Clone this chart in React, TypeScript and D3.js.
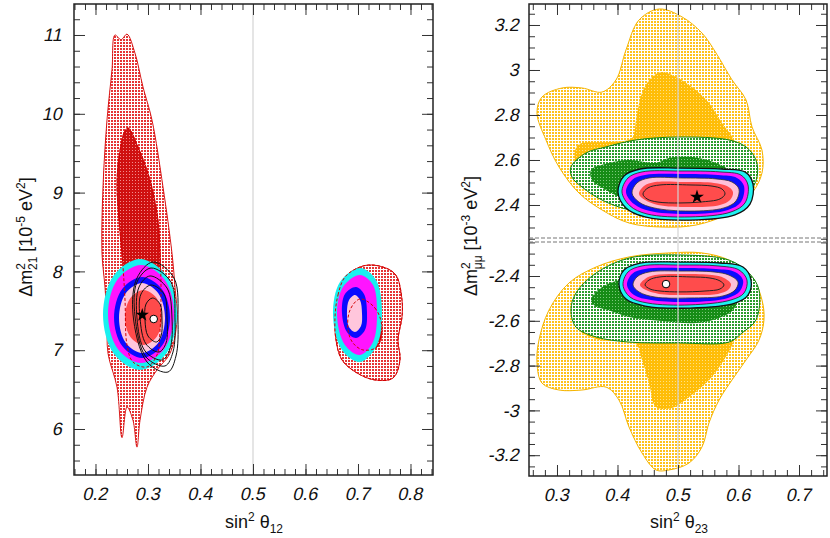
import React, { useEffect, useRef } from "react";
import * as d3 from "d3";

type Pt = [number, number];

const FONT = "'Liberation Sans', Arial, Helvetica, sans-serif";

// ---------- left panel: sin^2 theta12 vs dm21^2 ----------
const leftXTicks = [0.2, 0.3, 0.4, 0.5, 0.6, 0.7, 0.8];
const leftXTickLabels = ["0.2", "0.3", "0.4", "0.5", "0.6", "0.7", "0.8"];
const leftYTicks = [6, 7, 8, 9, 10, 11];
const leftYTickLabels = ["6", "7", "8", "9", "10", "11"];

// solar-only regions (light dotted = outer, dark = inner)
const solarOuter: Pt[] = [
  [0.2371, 11.0], [0.2486, 10.94], [0.26, 11.01], [0.2752, 10.77], [0.2905, 10.34],
  [0.3076, 9.92], [0.3286, 9.07], [0.3457, 8.23], [0.3514, 7.8], [0.3552, 7.38],
  [0.3419, 6.96], [0.3171, 6.75], [0.2981, 6.53], [0.2848, 6.11], [0.279, 5.77],
  [0.2714, 6.11], [0.26, 6.28], [0.2505, 5.89], [0.241, 6.53], [0.2238, 6.96],
  [0.2219, 7.38], [0.2181, 7.8], [0.2124, 8.23], [0.2143, 9.07], [0.2219, 9.92],
  [0.2314, 10.56],
];
const solarInner: Pt[] = [
  [0.2619, 9.82], [0.281, 9.579], [0.3038, 9.16], [0.319, 8.652], [0.3229, 8.234],
  [0.3248, 7.764], [0.3229, 7.256], [0.3171, 6.939], [0.2981, 6.787], [0.2714, 6.85],
  [0.26, 7.066], [0.2562, 7.637], [0.2524, 8.056], [0.2448, 8.652], [0.241, 9.071],
  [0.2429, 9.35], [0.2486, 9.605], [0.2543, 9.757],
];
const islandOuter: Pt[] = [
  [0.6562, 7.421], [0.6619, 7.701], [0.6752, 7.929], [0.7038, 8.056], [0.7286, 8.081],
  [0.761, 8.018], [0.7743, 7.929], [0.7838, 7.637], [0.7838, 7.421], [0.7762, 7.129],
  [0.78, 6.876], [0.7667, 6.647], [0.7324, 6.622], [0.6981, 6.711], [0.6695, 6.876],
  [0.6581, 7.129],
];
const islandInner: Pt[] = [
  [0.7038, 7.65], [0.7324, 7.535], [0.7457, 7.294], [0.7362, 7.041],
  [0.7095, 7.003], [0.6905, 7.091], [0.681, 7.256], [0.6848, 7.51],
];

// global fit rings, main solution
const globCyan: Pt[] = [
  [0.2848, 8.157], [0.3346, 7.951], [0.3553, 7.453], [0.3346, 6.955],
  [0.2848, 6.749], [0.235, 6.955], [0.2143, 7.453], [0.235, 7.951],
];
const globMagenta: Pt[] = [
  [0.2867, 8.081], [0.3312, 7.899], [0.3496, 7.459], [0.3312, 7.019],
  [0.2867, 6.837], [0.2422, 7.019], [0.2238, 7.459], [0.2422, 7.899],
];
const globBlue: Pt[] = [
  [0.2886, 7.929], [0.3263, 7.778], [0.3419, 7.415], [0.3263, 7.052],
  [0.2886, 6.901], [0.2509, 7.052], [0.2353, 7.415], [0.2509, 7.778],
];
const globPink: Pt[] = [
  [0.2886, 7.853], [0.3196, 7.723], [0.3324, 7.409], [0.3196, 7.095],
  [0.2886, 6.965], [0.2576, 7.095], [0.2448, 7.409], [0.2576, 7.723],
];
const globRed: Pt[] = [
  [0.2914, 7.764], [0.3163, 7.662], [0.3266, 7.415], [0.3163, 7.168],
  [0.2914, 7.066], [0.2665, 7.168], [0.2562, 7.415], [0.2665, 7.662],
];
// global fit rings, dark-side island
const isleCyan: Pt[] = [
  [0.7038, 8.043], [0.7343, 7.891], [0.7457, 7.485], [0.7362, 7.066],
  [0.7038, 6.85], [0.6695, 7.003], [0.6524, 7.447], [0.6657, 7.865],
];
const isleMagenta: Pt[] = [
  [0.7038, 7.954], [0.7286, 7.827], [0.7362, 7.472], [0.7286, 7.104],
  [0.7038, 6.939], [0.6752, 7.066], [0.66, 7.447], [0.6714, 7.802],
];
const isleBlue: Pt[] = [
  [0.6962, 7.802], [0.7114, 7.713], [0.7171, 7.485], [0.7133, 7.256],
  [0.6962, 7.155], [0.679, 7.231], [0.6695, 7.472], [0.6752, 7.713],
];
const islePink: Pt[] = [
  [0.6943, 7.701], [0.7038, 7.637], [0.7076, 7.472], [0.7057, 7.307],
  [0.6943, 7.231], [0.6829, 7.294], [0.679, 7.472], [0.6829, 7.637],
];
// black line contours (reactor)
const reactorContours: Pt[][] = [
  [[0.3086, 7.662], [0.3229, 7.586], [0.3267, 7.383], [0.3248, 7.18], [0.3162, 7.104], [0.3, 7.18], [0.2943, 7.383], [0.2962, 7.586]],
  [[0.3057, 7.827], [0.3305, 7.713], [0.3362, 7.409], [0.3343, 7.091], [0.321, 6.977], [0.2962, 7.079], [0.2848, 7.409], [0.2867, 7.713]],
  [[0.3038, 7.942], [0.3362, 7.789], [0.3457, 7.409], [0.3419, 7.015], [0.3267, 6.876], [0.2943, 6.99], [0.279, 7.409], [0.2829, 7.802]],
  [[0.3057, 8.043], [0.3438, 7.865], [0.3514, 7.409], [0.3476, 6.977], [0.3324, 6.8], [0.2962, 6.914], [0.2752, 7.434], [0.279, 7.865]],
  [[0.3095, 8.119], [0.3495, 7.916], [0.3571, 7.383], [0.3533, 6.926], [0.3381, 6.723], [0.2981, 6.85], [0.2714, 7.459], [0.279, 7.916]],
];
const leftStar: Pt = [0.2891, 7.447];
const leftDot: Pt = [0.3109, 7.396];

// ---------- right panel: sin^2 theta23 vs dm_mumu^2 ----------
const rightXTicks = [0.3, 0.4, 0.5, 0.6, 0.7];
const rightXTickLabels = ["0.3", "0.4", "0.5", "0.6", "0.7"];
const upperYTicks = [2.4, 2.6, 2.8, 3, 3.2];
const upperYTickLabels = ["2.4", "2.6", "2.8", "3", "3.2"];
const lowerYTicks = [-3.2, -3, -2.8, -2.6, -2.4];
const lowerYTickLabels = ["-3.2", "-3", "-2.8", "-2.6", "-2.4"];

// normal ordering (upper)
const noYellowOuter: Pt[] = [
  [0.4686, 3.271], [0.5066, 3.236], [0.5397, 3.164], [0.5628, 3.076], [0.5893, 2.956],
  [0.6124, 2.867], [0.6223, 2.747], [0.6388, 2.644], [0.6388, 2.542], [0.6223, 2.453],
  [0.5843, 2.364], [0.5298, 2.311], [0.4736, 2.302], [0.419, 2.32], [0.3744, 2.378],
  [0.3364, 2.453], [0.3033, 2.569], [0.2818, 2.689], [0.2669, 2.809], [0.2752, 2.88],
  [0.3083, 2.92], [0.3413, 2.92], [0.3744, 2.902], [0.3975, 2.956], [0.414, 3.089],
  [0.4355, 3.222],
];
const noYellowInner: Pt[] = [
  [0.4736, 2.991], [0.4967, 2.969], [0.5231, 2.924], [0.5512, 2.853], [0.5727, 2.764],
  [0.5926, 2.689], [0.6025, 2.6], [0.5942, 2.467], [0.5364, 2.4], [0.4372, 2.4],
  [0.3545, 2.467], [0.3298, 2.6], [0.3347, 2.667], [0.3876, 2.68], [0.424, 2.698],
  [0.4306, 2.778], [0.4405, 2.898], [0.457, 2.969],
];
const noGreenOuter: Pt[] = [
  [0.3231, 2.569], [0.3479, 2.631], [0.381, 2.658], [0.4306, 2.689], [0.5017, 2.702],
  [0.5843, 2.689], [0.6124, 2.658], [0.6289, 2.6], [0.6306, 2.524], [0.6174, 2.453],
  [0.5843, 2.387], [0.5298, 2.364], [0.4736, 2.356], [0.419, 2.378], [0.3744, 2.422],
  [0.3413, 2.48], [0.3248, 2.524],
];
const noGreenInner: Pt[] = [
  [0.3562, 2.556], [0.386, 2.587], [0.419, 2.6], [0.4636, 2.587], [0.4851, 2.609],
  [0.5231, 2.613], [0.5628, 2.587], [0.5843, 2.556], [0.5959, 2.511], [0.5843, 2.422],
  [0.5017, 2.409], [0.419, 2.422], [0.381, 2.467], [0.3579, 2.511],
];
const noCyan: Pt[] = [
  [0.4008, 2.458], [0.4107, 2.529], [0.4372, 2.56], [0.5033, 2.564], [0.5727, 2.56], [0.6107, 2.547],
  [0.624, 2.493], [0.619, 2.404], [0.5942, 2.356], [0.5198, 2.333], [0.4455, 2.347], [0.414, 2.387],
];
const noMagenta: Pt[] = [
  [0.4074, 2.458], [0.4174, 2.52], [0.4405, 2.547], [0.5033, 2.551], [0.5694, 2.547], [0.6041, 2.533],
  [0.6157, 2.489], [0.6107, 2.409], [0.5876, 2.369], [0.5198, 2.347], [0.4488, 2.36], [0.4207, 2.396],
];
const noBlue: Pt[] = [
  [0.414, 2.458], [0.424, 2.511], [0.4455, 2.533], [0.5033, 2.538], [0.5661, 2.533], [0.5975, 2.52],
  [0.6091, 2.484], [0.6041, 2.413], [0.5826, 2.378], [0.5198, 2.36], [0.4537, 2.373], [0.4273, 2.404],
];
const noPink: Pt[] = [
  [0.424, 2.453], [0.4322, 2.498], [0.4521, 2.52], [0.5066, 2.52], [0.5628, 2.516], [0.5893, 2.502],
  [0.6008, 2.471], [0.5959, 2.418], [0.576, 2.387], [0.5198, 2.373], [0.4603, 2.387], [0.4355, 2.413],
];
const noRed: Pt[] = [
  [0.4355, 2.449], [0.4438, 2.484], [0.462, 2.502], [0.5116, 2.502], [0.5595, 2.498], [0.581, 2.484],
  [0.5909, 2.458], [0.586, 2.422], [0.5694, 2.4], [0.5198, 2.391], [0.4669, 2.4], [0.4455, 2.422],
];
const noLine: Pt[] = [
  [0.4421, 2.449], [0.4504, 2.476], [0.4702, 2.489], [0.5198, 2.489], [0.5562, 2.484], [0.5727, 2.471],
  [0.5777, 2.449], [0.5694, 2.427], [0.5364, 2.413], [0.5033, 2.409], [0.4669, 2.413], [0.4488, 2.427],
];
const noStar: Pt = [0.5314, 2.436];

// inverted ordering (lower)
const ioYellowOuter: Pt[] = [
  [0.4851, -2.297], [0.5397, -2.297], [0.5843, -2.329], [0.6223, -2.404], [0.6388, -2.507],
  [0.6421, -2.596], [0.6339, -2.686], [0.6124, -2.775], [0.5893, -2.864], [0.5678, -2.954],
  [0.5512, -3.056], [0.5397, -3.163], [0.5182, -3.235], [0.4851, -3.266], [0.4636, -3.266],
  [0.4405, -3.19], [0.419, -3.074], [0.4025, -2.954], [0.381, -2.896], [0.3413, -2.909],
  [0.3033, -2.909], [0.2752, -2.878], [0.2669, -2.788], [0.2702, -2.686], [0.2868, -2.552],
  [0.3198, -2.431], [0.3645, -2.36], [0.419, -2.315],
];
const ioYellowInner: Pt[] = [
  [0.3364, -2.641], [0.3711, -2.686], [0.4289, -2.699], [0.4405, -2.775], [0.4521, -2.878],
  [0.4636, -2.985], [0.4901, -2.989], [0.5182, -2.94], [0.5512, -2.864], [0.5727, -2.788],
  [0.5909, -2.699], [0.5992, -2.596], [0.586, -2.463], [0.5198, -2.396], [0.4207, -2.396],
  [0.3545, -2.463], [0.3314, -2.574],
];
const ioGreenOuter: Pt[] = [
  [0.3231, -2.552], [0.3314, -2.476], [0.3645, -2.387], [0.419, -2.32], [0.5017, -2.306],
  [0.5843, -2.329], [0.6174, -2.387], [0.6339, -2.463], [0.6289, -2.596], [0.6058, -2.654],
  [0.5843, -2.695], [0.5017, -2.699], [0.419, -2.695], [0.3645, -2.672], [0.3314, -2.628],
];
const ioGreenInner: Pt[] = [
  [0.3562, -2.507], [0.3678, -2.463], [0.3876, -2.431], [0.4207, -2.409], [0.5033, -2.382],
  [0.5694, -2.396], [0.5942, -2.44], [0.5992, -2.507], [0.5893, -2.556], [0.5678, -2.587],
  [0.5298, -2.61], [0.4736, -2.601], [0.419, -2.583], [0.3843, -2.552], [0.3628, -2.534],
];
const ioCyan: Pt[] = [
  [0.4025, -2.44], [0.4107, -2.373], [0.4372, -2.342], [0.5033, -2.338], [0.5694, -2.342], [0.6074, -2.36],
  [0.6207, -2.418], [0.6157, -2.485], [0.5942, -2.521], [0.5198, -2.543], [0.4455, -2.534], [0.414, -2.503],
];
const ioMagenta: Pt[] = [
  [0.4091, -2.44], [0.4174, -2.382], [0.4405, -2.355], [0.5033, -2.351], [0.5661, -2.355], [0.6008, -2.373],
  [0.614, -2.418], [0.6091, -2.476], [0.5876, -2.507], [0.5198, -2.529], [0.4504, -2.521], [0.4207, -2.494],
];
const ioBlue: Pt[] = [
  [0.4157, -2.44], [0.424, -2.391], [0.4455, -2.369], [0.5033, -2.364], [0.5628, -2.369], [0.5942, -2.382],
  [0.6074, -2.418], [0.6025, -2.467], [0.5826, -2.498], [0.5198, -2.516], [0.4554, -2.507], [0.4273, -2.485],
];
const ioPink: Pt[] = [
  [0.4256, -2.44], [0.4322, -2.404], [0.4521, -2.382], [0.5066, -2.378], [0.5595, -2.382], [0.5843, -2.396],
  [0.5992, -2.427], [0.5942, -2.463], [0.5744, -2.489], [0.5198, -2.498], [0.462, -2.494], [0.4355, -2.471],
];
const ioRed: Pt[] = [
  [0.4372, -2.44], [0.4455, -2.413], [0.462, -2.396], [0.5116, -2.391], [0.5562, -2.396], [0.576, -2.409],
  [0.5876, -2.436], [0.5826, -2.463], [0.5661, -2.48], [0.5198, -2.485], [0.4686, -2.48], [0.4471, -2.463],
];
const ioLine: Pt[] = [
  [0.4455, -2.44], [0.4521, -2.418], [0.4702, -2.404], [0.5198, -2.404], [0.5529, -2.409], [0.5694, -2.422],
  [0.576, -2.44], [0.5694, -2.458], [0.5446, -2.467], [0.5033, -2.471], [0.4702, -2.467], [0.4537, -2.458],
];
const ioDot: Pt = [0.4802, -2.436];

// layout
const LEFT = { x0: 74, x1: 433, y0: 4, y1: 475 };
const RIGHT = { x0: 529, x1: 827, y0: 4, ya: 238, yb: 242, y1: 476 };

const App = () => {
  const ref = useRef<SVGGElement>(null);

  useEffect(() => {
    const root = d3.select(ref.current);
    root.selectAll("*").remove();

    const xL = d3.scaleLinear().domain([0.15905, 0.84286]).range([LEFT.x0, LEFT.x1]);
    const yL = d3.scaleLinear().domain([5.4162, 11.3934]).range([LEFT.y1, LEFT.y0]);
    const xR = d3.scaleLinear().domain([0.25372, 0.74628]).range([RIGHT.x0, RIGHT.x1]);
    const yU = d3.scaleLinear().domain([2.2533, 3.2933]).range([RIGHT.ya, RIGHT.y0]);
    const yD = d3.scaleLinear().domain([-3.2929, -2.2482]).range([RIGHT.y1, RIGHT.yb]);

    // patterns
    const defs = root.append("defs");
    const pattern = (id: string, bg: string, fg: string, dot: number) => {
      const p = defs.append("pattern").attr("id", id).attr("patternUnits", "userSpaceOnUse")
        .attr("width", 3).attr("height", 3);
      p.append("rect").attr("width", 3).attr("height", 3).attr("fill", bg);
      p.append("rect").attr("width", dot).attr("height", dot).attr("fill", fg);
    };
    pattern("dotRed", "#ffffff", "#e53535", 2);
    pattern("darkRed", "#cf1010", "#f28c8c", 1);
    pattern("dotYellow", "#ffffff", "#ffc21c", 2);
    pattern("darkYellow", "#ffbd08", "#ffe184", 1);
    pattern("dotGreen", "#ffffff", "#2c9c2c", 2);
    pattern("darkGreen", "#168c16", "#7cc87c", 1);

    const clip = (id: string, x0: number, y0: number, x1: number, y1: number) =>
      defs.append("clipPath").attr("id", id).append("rect")
        .attr("x", x0).attr("y", y0).attr("width", x1 - x0).attr("height", y1 - y0);
    clip("clipL", LEFT.x0, LEFT.y0, LEFT.x1, LEFT.y1);
    clip("clipU", RIGHT.x0, RIGHT.y0, RIGHT.x1, RIGHT.ya);
    clip("clipD", RIGHT.x0, RIGHT.yb, RIGHT.x1, RIGHT.y1);

    const shape = (x: d3.ScaleLinear<number, number>, y: d3.ScaleLinear<number, number>) =>
      d3.line<Pt>().x((d) => x(d[0])).y((d) => y(d[1])).curve(d3.curveCatmullRomClosed.alpha(0.5));

    const area = (g: any, gen: any, pts: Pt[], fill: string, stroke = "none", sw = 1, dash = "") =>
      g.append("path").attr("d", gen(pts)).attr("fill", fill).attr("stroke", stroke)
        .attr("stroke-width", sw).attr("stroke-dasharray", dash || null);

    // ---- left panel ----
    const gl = root.append("g").attr("clip-path", "url(#clipL)");
    const lineL = shape(xL, yL);
    area(gl, lineL, solarOuter, "url(#dotRed)", "#d40000", 0.9);
    area(gl, lineL, islandOuter, "url(#dotRed)", "#d40000", 0.9);
    area(gl, lineL, solarInner, "url(#darkRed)", "#c80000", 0.8);
    area(gl, lineL, islandInner, "url(#darkRed)", "#c80000", 0.8);
    area(gl, lineL, globCyan, "#19f0f0");
    area(gl, lineL, globMagenta, "#ff14ff");
    area(gl, lineL, globBlue, "#0a0aff");
    area(gl, lineL, globPink, "#ffc6dc");
    area(gl, lineL, globRed, "#ff4b4b");
    area(gl, lineL, isleCyan, "#19f0f0");
    area(gl, lineL, isleMagenta, "#ff14ff");
    area(gl, lineL, isleBlue, "#0a0aff");
    area(gl, lineL, islePink, "#ffc6dc");
    area(gl, lineL, solarInner, "none", "#d40000", 1, "3,2");
    area(gl, lineL, islandInner, "none", "#d40000", 1, "3,2");
    area(gl, lineL, islandOuter, "none", "#d40000", 1, "3,2");
    reactorContours.forEach((c) => area(gl, lineL, c, "none", "#111", 1));
    gl.append("line").attr("x1", xL(0.5)).attr("x2", xL(0.5)).attr("y1", LEFT.y0).attr("y2", LEFT.y1)
      .attr("stroke", "#d4d4d4").attr("stroke-width", 1.2);
    gl.append("path").attr("d", d3.symbol(d3.symbolStar, 55)())
      .attr("transform", `translate(${xL(leftStar[0])},${yL(leftStar[1])})`).attr("fill", "#000");
    gl.append("circle").attr("cx", xL(leftDot[0])).attr("cy", yL(leftDot[1])).attr("r", 3.8)
      .attr("fill", "#fff").attr("stroke", "#000").attr("stroke-width", 1);

    // ---- right panels ----
    const drawRight = (clipId: string, y: d3.ScaleLinear<number, number>, d: {
      yo: Pt[]; yi: Pt[]; go: Pt[]; gi: Pt[]; rings: Pt[][]; inner: Pt[];
    }) => {
      const g = root.append("g").attr("clip-path", `url(#${clipId})`);
      const gen = shape(xR, y);
      area(g, gen, d.yo, "url(#dotYellow)", "#f5b400", 1);
      area(g, gen, d.yi, "url(#darkYellow)");
      area(g, gen, d.go, "url(#dotGreen)", "#138613", 1);
      area(g, gen, d.gi, "url(#darkGreen)");
      const fills = ["#1ef2f2", "#ff18ff", "#0c0cff", "#ffc0d8", "#ff4c4c"];
      const strokes = ["#111", "#222", "none", "#333", "none"];
      d.rings.forEach((r, i) => area(g, gen, r, fills[i], strokes[i], i === 0 ? 1.3 : 0.8));
      area(g, gen, d.inner, "none", "#222", 1);
      return g;
    };
    const gu = drawRight("clipU", yU, {
      yo: noYellowOuter, yi: noYellowInner, go: noGreenOuter, gi: noGreenInner,
      rings: [noCyan, noMagenta, noBlue, noPink, noRed], inner: noLine,
    });
    const gd = drawRight("clipD", yD, {
      yo: ioYellowOuter, yi: ioYellowInner, go: ioGreenOuter, gi: ioGreenInner,
      rings: [ioCyan, ioMagenta, ioBlue, ioPink, ioRed], inner: ioLine,
    });
    gu.append("path").attr("d", d3.symbol(d3.symbolStar, 60)())
      .attr("transform", `translate(${xR(noStar[0])},${yU(noStar[1])})`).attr("fill", "#000");
    gd.append("circle").attr("cx", xR(ioDot[0])).attr("cy", yD(ioDot[1])).attr("r", 3.8)
      .attr("fill", "#fff").attr("stroke", "#000").attr("stroke-width", 1);
    root.append("line").attr("x1", xR(0.5)).attr("x2", xR(0.5)).attr("y1", RIGHT.y0).attr("y2", RIGHT.y1)
      .attr("stroke", "#d4d4d4").attr("stroke-width", 1.2);

    // ---- axes ----
    // slanted tick labels (skew kept centred on the glyphs)
    const styleAxis = (g: any, shiftX: number) => {
      g.attr("font-family", null).attr("font-size", null);
      g.selectAll(".domain").remove();
      g.selectAll(".tick line").attr("stroke", "#333").attr("stroke-width", 1);
      g.selectAll(".tick text")
        .style("font-family", FONT).style("font-size", "18px").style("fill", "#111")
        .attr("transform", `translate(${shiftX},0) skewX(-12)`);
    };
    const axis = (gen: any, tx: number, ty: number, shiftX = 0) => {
      const g = root.append("g").attr("transform", `translate(${tx},${ty})`).call(gen);
      styleAxis(g, shiftX);
    };
    const none = () => "";
    const minorLX = d3.range(8, 43).map((i) => +(i * 0.02).toFixed(2));
    const minorLY = d3.range(28, 57).map((i) => +(i * 0.2).toFixed(1));
    const minorRX = d3.range(13, 38).map((i) => +(i * 0.02).toFixed(2));
    const minorUY = d3.range(45, 66).map((i) => +(i * 0.05).toFixed(2));
    const minorDY = d3.range(-65, -44).map((i) => +(i * 0.05).toFixed(2));

    // left panel
    axis(d3.axisBottom(xL).tickValues(leftXTicks).tickSize(-11).tickPadding(12)
      .tickFormat((_d: any, i: number) => leftXTickLabels[i]), 0, LEFT.y1, 4);
    axis(d3.axisBottom(xL).tickValues(minorLX).tickSize(-6).tickFormat(none), 0, LEFT.y1);
    axis(d3.axisTop(xL).tickValues(leftXTicks).tickSize(-11).tickFormat(none), 0, LEFT.y0);
    axis(d3.axisTop(xL).tickValues(minorLX).tickSize(-6).tickFormat(none), 0, LEFT.y0);
    axis(d3.axisLeft(yL).tickValues(leftYTicks).tickSize(-11).tickPadding(11)
      .tickFormat((_d: any, i: number) => leftYTickLabels[i]), LEFT.x0, 0);
    axis(d3.axisLeft(yL).tickValues(minorLY).tickSize(-6).tickFormat(none), LEFT.x0, 0);
    axis(d3.axisRight(yL).tickValues(leftYTicks).tickSize(-11).tickFormat(none), LEFT.x1, 0);
    axis(d3.axisRight(yL).tickValues(minorLY).tickSize(-6).tickFormat(none), LEFT.x1, 0);

    // right panel
    axis(d3.axisBottom(xR).tickValues(rightXTicks).tickSize(-11).tickPadding(12)
      .tickFormat((_d: any, i: number) => rightXTickLabels[i]), 0, RIGHT.y1, 4);
    axis(d3.axisBottom(xR).tickValues(minorRX).tickSize(-6).tickFormat(none), 0, RIGHT.y1);
    axis(d3.axisTop(xR).tickValues(rightXTicks).tickSize(-11).tickFormat(none), 0, RIGHT.y0);
    axis(d3.axisTop(xR).tickValues(minorRX).tickSize(-6).tickFormat(none), 0, RIGHT.y0);
    axis(d3.axisLeft(yU).tickValues(upperYTicks).tickSize(-11).tickPadding(9)
      .tickFormat((_d: any, i: number) => upperYTickLabels[i]), RIGHT.x0, 0);
    axis(d3.axisLeft(yU).tickValues(minorUY).tickSize(-6).tickFormat(none), RIGHT.x0, 0);
    axis(d3.axisRight(yU).tickValues(upperYTicks).tickSize(-11).tickFormat(none), RIGHT.x1, 0);
    axis(d3.axisRight(yU).tickValues(minorUY).tickSize(-6).tickFormat(none), RIGHT.x1, 0);
    axis(d3.axisLeft(yD).tickValues(lowerYTicks).tickSize(-11).tickPadding(9)
      .tickFormat((_d: any, i: number) => lowerYTickLabels[i]), RIGHT.x0, 0);
    axis(d3.axisLeft(yD).tickValues(minorDY).tickSize(-6).tickFormat(none), RIGHT.x0, 0);
    axis(d3.axisRight(yD).tickValues(lowerYTicks).tickSize(-11).tickFormat(none), RIGHT.x1, 0);
    axis(d3.axisRight(yD).tickValues(minorDY).tickSize(-6).tickFormat(none), RIGHT.x1, 0);

    // frames
    root.append("rect").attr("x", LEFT.x0).attr("y", LEFT.y0)
      .attr("width", LEFT.x1 - LEFT.x0).attr("height", LEFT.y1 - LEFT.y0)
      .attr("fill", "none").attr("stroke", "#222").attr("stroke-width", 1.5);
    root.append("rect").attr("x", RIGHT.x0).attr("y", RIGHT.y0)
      .attr("width", RIGHT.x1 - RIGHT.x0).attr("height", RIGHT.y1 - RIGHT.y0)
      .attr("fill", "none").attr("stroke", "#222").attr("stroke-width", 1.5);
    [RIGHT.ya, RIGHT.yb].forEach((yy) =>
      root.append("line").attr("x1", RIGHT.x0).attr("x2", RIGHT.x1).attr("y1", yy).attr("y2", yy)
        .attr("stroke", "#777").attr("stroke-width", 1.2).attr("stroke-dasharray", "4,2"));
  }, []);

  return (
    <svg width={830} height={538} style={{ position: "absolute", left: 0, top: 0, background: "#fff" }}
      fontFamily={FONT}>
      <g ref={ref} />
      <text x={254} y={528} textAnchor="middle" fontSize={18} fill="#111">
        sin<tspan dy={-7} fontSize={12}>2</tspan><tspan dy={7}> θ</tspan><tspan dy={5} fontSize={12}>12</tspan>
      </text>
      <text x={679} y={528} textAnchor="middle" fontSize={18} fill="#111">
        sin<tspan dy={-7} fontSize={12}>2</tspan><tspan dy={7}> θ</tspan><tspan dy={5} fontSize={12}>23</tspan>
      </text>
      <text transform="translate(32,237) rotate(-90)" textAnchor="middle" fontSize={18} fill="#111">
        Δm<tspan dy={-7} fontSize={12}>2</tspan><tspan dx={-7} dy={12} fontSize={12}>21</tspan>
        <tspan dy={-5}> [10</tspan><tspan dy={-7} fontSize={12}>-5</tspan><tspan dy={7}> eV</tspan>
        <tspan dy={-7} fontSize={12}>2</tspan><tspan dy={7}>]</tspan>
      </text>
      <text transform="translate(477,236) rotate(-90)" textAnchor="middle" fontSize={18} fill="#111">
        Δm<tspan dy={-7} fontSize={12}>2</tspan><tspan dx={-7} dy={12} fontSize={12}>μμ</tspan>
        <tspan dy={-5}> [10</tspan><tspan dy={-7} fontSize={12}>-3</tspan><tspan dy={7}> eV</tspan>
        <tspan dy={-7} fontSize={12}>2</tspan><tspan dy={7}>]</tspan>
      </text>
    </svg>
  );
};

export default App;
